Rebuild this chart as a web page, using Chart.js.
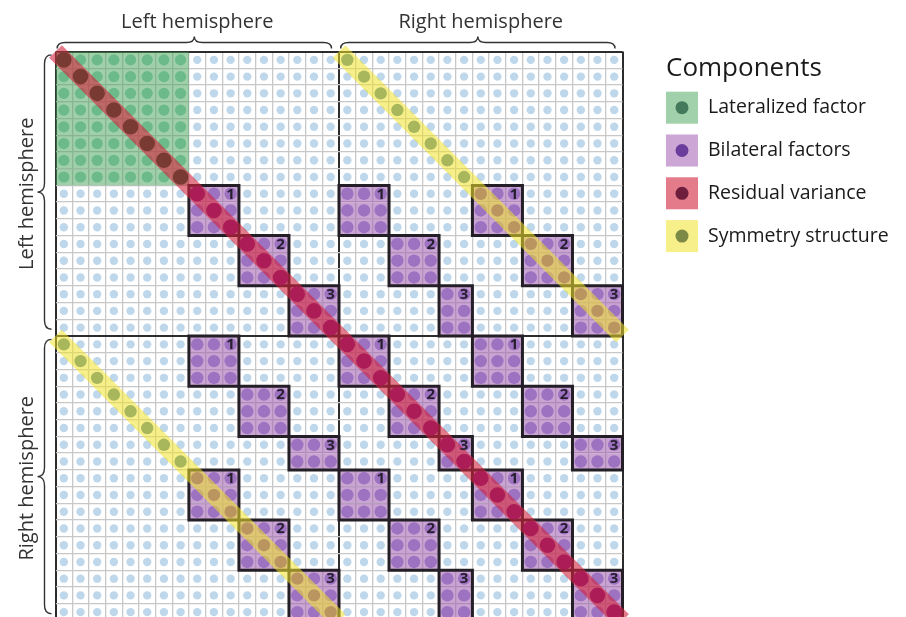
<!DOCTYPE html>
<html>
<head>
<meta charset="utf-8">
<script src="https://cdn.jsdelivr.net/npm/chart.js@4.4.1/dist/chart.umd.min.js"></script>
<style>
  html, body { margin: 0; padding: 0; background: #fff; overflow: hidden; }
  canvas { display: block; }
</style>
</head>
<body>
<canvas id="matrixChart" width="906" height="630"></canvas>
<script>
// regions along both axes, 17 per hemisphere, left hemisphere first
const hemispheres = ['Left hemisphere', 'Right hemisphere'];
const regionsPerHemisphere = 17;
// groups of regions: first index, size, factor (0 = lateralized, 1-3 = bilateral factor)
const groupStarts = [0, 8, 11, 14, 17, 20, 23, 25, 28, 31];
const groupSizes = [8, 3, 3, 3, 3, 3, 2, 3, 3, 3];
const groupFactor = [0, 1, 2, 3, 1, 2, 3, 1, 2, 3];
const components = ['Lateralized factor', 'Bilateral factors', 'Residual variance', 'Symmetry structure'];

const palette = {
  grid: '#c8c8c8',
  frame: '#2c2c2c',
  blueDot: '#bfd7eb',
  lateralFill: 'rgba(65,161,85,0.5)',
  lateralDot: '#6cba8a',
  bilateralFill: 'rgba(149,75,169,0.5)',
  bilateralDot: '#9d72c0',
  residualBand: 'rgba(210,35,60,0.6)',
  residualDotLateral: '#7a3a34',
  residualDotBilateral: '#ac1d58',
  symmetryBand: 'rgba(240,225,40,0.55)',
  symmetryDotPlain: '#a9b75c',
  symmetryDotBilateral: '#bb955f',
  blockLine: '#241f27',
  blockText: '#261d2e',
  keyFill: ['#a1d1aa', '#cca6d5', '#e47b8a', '#f7ef8a'],
  keyDot: ['#437a5c', '#6a3c9b', '#6e1e3c', '#7d8a46'],
};
const fontFamily = '"Open Sans", "Noto Sans", sans-serif';

const n = regionsPerHemisphere * hemispheres.length;

function groupOf(i) {
  let g = 0;
  groupStarts.forEach((s, k) => { if (i >= s) g = k; });
  return g;
}

const lateralFill = [], bilateralFill = [], blueDots = [], lateralDots = [], bilateralDots = [];
const residualOnLateral = [], residualOnBilateral = [], symmetryPlain = [], symmetryOnBilateral = [];

for (let r = 0; r < n; r++) {
  for (let c = 0; c < n; c++) {
    const p = { x: c + 0.5, y: r + 0.5 };
    const fr = groupFactor[groupOf(r)], fc = groupFactor[groupOf(c)];
    const isLateral = fr === 0 && fc === 0;
    const isBilateral = fr > 0 && fr === fc;
    if (isLateral) lateralFill.push(p);
    if (isBilateral) bilateralFill.push(p);
    if (r === c) {
      (isLateral ? residualOnLateral : residualOnBilateral).push(p);
    } else if (Math.abs(r - c) === regionsPerHemisphere) {
      (isBilateral ? symmetryOnBilateral : symmetryPlain).push(p);
    } else if (isLateral) {
      lateralDots.push(p);
    } else if (isBilateral) {
      bilateralDots.push(p);
    } else {
      blueDots.push(p);
    }
  }
}

const blocks = [];
groupStarts.forEach((rs, gr) => {
  groupStarts.forEach((cs, gc) => {
    if (groupFactor[gr] > 0 && groupFactor[gr] === groupFactor[gc]) {
      blocks.push({ r0: rs, r1: rs + groupSizes[gr], c0: cs, c1: cs + groupSizes[gc], label: groupFactor[gr] });
    }
  });
});

function cellRadius(ctx) {
  const xs = ctx.chart.scales.x;
  return Math.abs(xs.getPixelForValue(1) - xs.getPixelForValue(0)) / Math.SQRT2;
}

function fillSet(points, color) {
  return { data: points, pointStyle: 'rect', pointRadius: cellRadius, pointBackgroundColor: color, pointBorderWidth: 0, order: 10 };
}

function dotSet(points, color, radius, order) {
  return { data: points, pointRadius: radius, pointBackgroundColor: color, pointBorderWidth: 0, order: order };
}

function bandSet(from, to, color) {
  return {
    data: [from, to], showLine: true, borderColor: color, borderWidth: 18,
    borderCapStyle: 'butt', pointRadius: 0, clip: false, order: 7,
  };
}

const datasets = [
  fillSet(lateralFill, palette.lateralFill),
  fillSet(bilateralFill, palette.bilateralFill),
  dotSet(blueDots, palette.blueDot, 4.2, 9),
  dotSet(lateralDots, palette.lateralDot, 5.6, 9),
  dotSet(bilateralDots, palette.bilateralDot, 6.2, 9),
];

blocks.forEach((b) => {
  datasets.push({
    data: [
      { x: b.c0, y: b.r0 }, { x: b.c1, y: b.r0 }, { x: b.c1, y: b.r1 },
      { x: b.c0, y: b.r1 }, { x: b.c0, y: b.r0 },
    ],
    showLine: true, borderColor: palette.blockLine, borderWidth: 3,
    borderJoinStyle: 'miter', borderCapStyle: 'square', pointRadius: 0, clip: false, order: 8,
  });
});

const h = regionsPerHemisphere;
datasets.push(bandSet({ x: 0, y: 0 }, { x: n, y: n }, palette.residualBand));
datasets.push(bandSet({ x: h, y: 0 }, { x: n, y: h }, palette.symmetryBand));
datasets.push(bandSet({ x: 0, y: h }, { x: h, y: n }, palette.symmetryBand));
datasets.push(dotSet(residualOnLateral, palette.residualDotLateral, 7.8, 6));
datasets.push(dotSet(residualOnBilateral, palette.residualDotBilateral, 7.8, 6));
datasets.push(dotSet(symmetryPlain, palette.symmetryDotPlain, 6.2, 6));
datasets.push(dotSet(symmetryOnBilateral, palette.symmetryDotBilateral, 6.2, 6));

// curly brace from p1 to p2, tip pushed along nrm by depth
function drawBrace(ctx, p1, p2, nrm, depth, r) {
  const len = Math.hypot(p2.x - p1.x, p2.y - p1.y);
  const ux = (p2.x - p1.x) / len, uy = (p2.y - p1.y) / len;
  const P = (s, t) => [p1.x + s * ux + t * nrm.x, p1.y + s * uy + t * nrm.y];
  const m = len / 2, b = depth / 2;
  ctx.beginPath();
  ctx.moveTo(...P(0, 0));
  ctx.quadraticCurveTo(...P(0, b), ...P(r, b));
  ctx.lineTo(...P(m - r, b));
  ctx.quadraticCurveTo(...P(m, b), ...P(m, depth));
  ctx.quadraticCurveTo(...P(m, b), ...P(m + r, b));
  ctx.lineTo(...P(len - r, b));
  ctx.quadraticCurveTo(...P(len, b), ...P(len, 0));
  ctx.stroke();
}

const annotations = {
  id: 'annotations',
  afterDatasetsDraw(chart) {
    const { ctx, scales: { x, y } } = chart;
    ctx.save();
    ctx.fillStyle = palette.blockText;
    ctx.font = 'bold 15px ' + fontFamily;
    ctx.textAlign = 'center';
    ctx.textBaseline = 'middle';
    blocks.forEach((b) => {
      ctx.fillText(String(b.label), x.getPixelForValue(b.c1 - 0.5), y.getPixelForValue(b.r0 + 0.5) + 0.5);
    });
    ctx.restore();
  },
  afterDraw(chart) {
    const { ctx, chartArea: area, scales: { x, y } } = chart;
    ctx.save();
    ctx.strokeStyle = '#333';
    ctx.lineWidth = 1.4;
    ctx.fillStyle = '#333';
    ctx.font = '20px ' + fontFamily;
    hemispheres.forEach((name, i) => {
      const a = i * h, z = (i + 1) * h;
      // top braces and labels
      const x1 = x.getPixelForValue(a + 0.1), x2 = x.getPixelForValue(z - 0.45);
      drawBrace(ctx, { x: x1, y: area.top - 3 }, { x: x2, y: area.top - 3 }, { x: 0, y: -1 }, 12, 8);
      ctx.textAlign = 'center';
      ctx.textBaseline = 'alphabetic';
      ctx.fillText(name, x.getPixelForValue((a + z) / 2), 28);
      // left braces and rotated labels
      const y1 = y.getPixelForValue(a + 0.2), y2 = y.getPixelForValue(z - 0.4);
      drawBrace(ctx, { x: area.left - 4, y: y1 }, { x: area.left - 4, y: y2 }, { x: -1, y: 0 }, 14, 9);
      ctx.save();
      ctx.translate(33, y.getPixelForValue((a + z) / 2));
      ctx.rotate(-Math.PI / 2);
      ctx.fillText(name, 0, 0);
      ctx.restore();
    });

    // legend
    const lx = area.right + 43.5;
    ctx.fillStyle = '#1a1a1a';
    ctx.textAlign = 'left';
    ctx.textBaseline = 'alphabetic';
    ctx.font = '26px ' + fontFamily;
    ctx.fillText('Components', lx, 76);
    ctx.font = '19.5px ' + fontFamily;
    ctx.textBaseline = 'middle';
    components.forEach((label, i) => {
      const top = 91.7 + i * 42.8;
      ctx.fillStyle = palette.keyFill[i];
      ctx.fillRect(lx, top, 32, 32);
      ctx.fillStyle = palette.keyDot[i];
      ctx.beginPath();
      ctx.arc(lx + 16, top + 16, 6.5, 0, Math.PI * 2);
      ctx.fill();
      ctx.fillStyle = '#1a1a1a';
      ctx.fillText(label, lx + 42, top + 16);
    });
    ctx.restore();
  },
};

function gridColor(ctx) {
  return ctx.tick && ctx.tick.value % regionsPerHemisphere === 0 ? palette.frame : palette.grid;
}
function gridWidth(ctx) {
  return ctx.tick && ctx.tick.value % regionsPerHemisphere === 0 ? 2 : 1.3;
}

const axis = {
  type: 'linear',
  min: 0,
  max: n,
  ticks: { display: false, stepSize: 1, maxTicksLimit: 100, autoSkip: false },
  grid: { drawTicks: false, color: gridColor, lineWidth: gridWidth },
  border: { display: false },
};

var matrixChart = new Chart(document.getElementById('matrixChart').getContext('2d'), {
  type: 'scatter',
  data: { datasets: datasets },
  options: {
    responsive: false,
    animation: false,
    events: [],
    layout: { padding: { left: 55.5, top: 51.5, right: 283.5, bottom: 9.5 } },
    plugins: { legend: { display: false }, tooltip: { enabled: false } },
    scales: {
      x: axis,
      y: Object.assign({}, axis, { reverse: true }),
    },
  },
  plugins: [annotations],
});
</script>
</body>
</html>
